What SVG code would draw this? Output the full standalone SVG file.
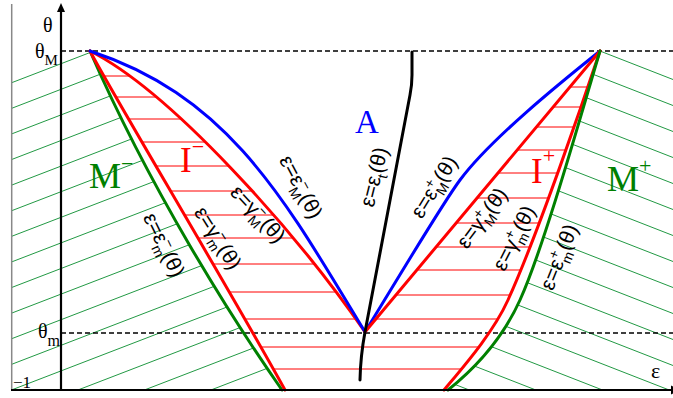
<svg xmlns="http://www.w3.org/2000/svg" width="673" height="398" viewBox="0 0 673 398">
<style>
.ser{font-family:"Liberation Serif","Times New Roman",serif}
.lb{font-family:"Liberation Sans",Arial,sans-serif;font-size:21px;fill:#000}
.sm{font-size:14px}
.hg line{stroke:#229944;stroke-width:1}
.hr line{stroke:#ff0000;stroke-width:1}
.cv{fill:none;stroke-width:3;stroke-linejoin:round;stroke-linecap:round}
.dash{stroke:#000;stroke-width:1.3;stroke-dasharray:5,3;fill:none}
.ax{stroke:#000;stroke-width:2.2;fill:none}
</style>
<defs>
<clipPath id="cL"><path d="M12,51 L90,51 C150,189 232,318.5 282,390 L12,390 Z"/></clipPath>
<clipPath id="cR"><path d="M600,51 L673,51 L673,390 L448,390 C473,370 502,340 520,300 C545,245 586,97 600,51 Z"/></clipPath>
<clipPath id="cI"><path d="M90,51 C110,90 230,290 285,390 L444,390 C464,366 493,333 508,300 C538,234 585,96 600,51 L365,332 C295,230.5 170,91 90,51 Z"/></clipPath>
</defs>
<rect width="673" height="398" fill="#fff"/>
<g id="hatch-left" class="hg" clip-path="url(#cL)">
<line x1="0" y1="87.2" x2="300" y2="-28.3"/>
<line x1="0" y1="112.8" x2="300" y2="-2.7"/>
<line x1="0" y1="138.4" x2="300" y2="22.9"/>
<line x1="0" y1="164" x2="300" y2="48.5"/>
<line x1="0" y1="189.6" x2="300" y2="74.1"/>
<line x1="0" y1="215.2" x2="300" y2="99.7"/>
<line x1="0" y1="240.8" x2="300" y2="125.3"/>
<line x1="0" y1="266.4" x2="300" y2="150.9"/>
<line x1="0" y1="292" x2="300" y2="176.5"/>
<line x1="0" y1="317.6" x2="300" y2="202.1"/>
<line x1="0" y1="343.2" x2="300" y2="227.7"/>
<line x1="0" y1="368.8" x2="300" y2="253.3"/>
<line x1="0" y1="394.4" x2="300" y2="278.9"/>
<line x1="0" y1="420" x2="300" y2="304.5"/>
<line x1="0" y1="445.6" x2="300" y2="330.1"/>
<line x1="0" y1="471.2" x2="300" y2="355.7"/>
<line x1="0" y1="496.8" x2="300" y2="381.3"/>
</g>
<g id="hatch-right" class="hg" clip-path="url(#cR)">
<line x1="440" y1="-11.4" x2="673" y2="79.5"/>
<line x1="440" y1="14.6" x2="673" y2="105.5"/>
<line x1="440" y1="40.6" x2="673" y2="131.5"/>
<line x1="440" y1="66.6" x2="673" y2="157.5"/>
<line x1="440" y1="92.6" x2="673" y2="183.5"/>
<line x1="440" y1="118.6" x2="673" y2="209.5"/>
<line x1="440" y1="144.6" x2="673" y2="235.5"/>
<line x1="440" y1="170.6" x2="673" y2="261.5"/>
<line x1="440" y1="196.6" x2="673" y2="287.5"/>
<line x1="440" y1="222.6" x2="673" y2="313.5"/>
<line x1="440" y1="248.6" x2="673" y2="339.5"/>
<line x1="440" y1="274.6" x2="673" y2="365.5"/>
<line x1="440" y1="300.6" x2="673" y2="391.5"/>
<line x1="440" y1="326.6" x2="673" y2="417.5"/>
<line x1="440" y1="352.6" x2="673" y2="443.5"/>
<line x1="440" y1="378.6" x2="673" y2="469.5"/>
</g>
<g id="hatch-I" class="hr" clip-path="url(#cI)">
<line x1="80" y1="76" x2="366" y2="76"/>
<line x1="80" y1="97" x2="366" y2="97"/>
<line x1="80" y1="119" x2="366" y2="119"/>
<line x1="80" y1="142" x2="366" y2="142"/>
<line x1="80" y1="166" x2="366" y2="166"/>
<line x1="80" y1="191" x2="366" y2="191"/>
<line x1="80" y1="215" x2="366" y2="215"/>
<line x1="80" y1="238" x2="366" y2="238"/>
<line x1="80" y1="264" x2="366" y2="264"/>
<line x1="80" y1="292" x2="366" y2="292"/>
<line x1="364" y1="87" x2="610" y2="87"/>
<line x1="364" y1="107" x2="610" y2="107"/>
<line x1="364" y1="127" x2="610" y2="127"/>
<line x1="364" y1="150" x2="610" y2="150"/>
<line x1="364" y1="173" x2="610" y2="173"/>
<line x1="364" y1="198" x2="610" y2="198"/>
<line x1="364" y1="223" x2="610" y2="223"/>
<line x1="364" y1="247" x2="610" y2="247"/>
<line x1="364" y1="270" x2="610" y2="270"/>
<line x1="364" y1="295" x2="610" y2="295"/>
<line x1="80" y1="319" x2="610" y2="319"/>
<line x1="80" y1="347" x2="610" y2="347"/>
<line x1="80" y1="369" x2="610" y2="369"/>
</g>
<g id="levels">
<line class="dash" x1="61" y1="51" x2="673" y2="51"/>
<line class="dash" x1="61" y1="333" x2="673" y2="333"/>
</g>
<g id="connectors">
<path id="eps-m-minus" class="cv" stroke="#008000" d="M90,51 C150,189 232,318.5 282,390"/>
<path id="gam-m-minus" class="cv" stroke="#ff0000" d="M90,51 C110,90 230,290 285,390"/>
<path id="gam-M-minus" class="cv" stroke="#ff0000" d="M90,51 C170,91 295,230.5 365,332"/>
<path id="eps-M-minus" class="cv" stroke="#0000ff" d="M90,51 C230,97 285,200 365,332"/>
<path id="eps-M-plus" class="cv" stroke="#0000ff" d="M365,332 C385,300 440,207 460,180 C490,139.5 560,83 600,51"/>
<path id="gam-M-plus" class="cv" stroke="#ff0000" d="M365,332 L600,51"/>
<path id="gam-m-plus" class="cv" stroke="#ff0000" d="M444,390 C464,366 493,333 508,300 C538,234 585,96 600,51"/>
<path id="eps-m-plus" class="cv" stroke="#008000" d="M448,390 C473,370 502,340 520,300 C545,245 586,97 600,51"/>
<path id="eps-t" class="cv" stroke="#000" stroke-width="2.8" d="M412,52 L412,75 Q412,85 410,95 L365,332 Q360.5,356 360,380"/>
</g>
<g id="axes">
<line x1="11.7" y1="4" x2="11.7" y2="390" stroke="#888" stroke-width="1.5"/>
<line class="ax" x1="61" y1="390" x2="61" y2="10"/>
<polygon points="61,3 57,12 65,12" fill="#000"/>
<line class="ax" x1="11" y1="390" x2="672" y2="390"/>
<polygon points="671,385.5 680,390 671,394.5" fill="#000"/>
</g>
<g id="axis-labels" class="ser" fill="#000">
<text x="43" y="32" font-size="20">θ</text>
<text x="35" y="58" font-size="20">θ<tspan font-size="15" dy="7">M</tspan></text>
<text x="38" y="338" font-size="20">θ<tspan font-size="16" dy="8">m</tspan></text>
<text x="13" y="388" font-size="17">−1</text>
<text x="651" y="378" font-size="22">ε</text>
</g>
<g id="region-A"><text class="ser" x="355" y="133" font-size="33" fill="#0000ff">A</text></g>
<g id="region-Mminus"><text class="ser" x="89" y="188" font-size="36" fill="#008000">M<tspan font-size="22" dy="-17">−</tspan></text></g>
<g id="region-Iminus"><text class="ser" x="180" y="172" font-size="35" fill="#ff0000">I<tspan font-size="22" dy="-18">−</tspan></text></g>
<g id="region-Iplus"><text class="ser" x="531" y="183" font-size="35" fill="#ff0000">I<tspan font-size="22" dy="-20">+</tspan></text></g>
<g id="region-Mplus"><text class="ser" x="607" y="191" font-size="36" fill="#008000">M<tspan font-size="22" dy="-18">+</tspan></text></g>
<g id="curve-labels">
<text class="lb" transform="translate(164,245) rotate(64)" text-anchor="middle" y="7">ε=ε<tspan class="sm" dy="-8">−</tspan><tspan class="sm" dx="-8" dy="14">m</tspan><tspan dy="-6">(θ)</tspan></text>
<text class="lb" transform="translate(218,238) rotate(58)" text-anchor="middle" y="7">ε=γ<tspan class="sm" dy="-8">−</tspan><tspan class="sm" dx="-8" dy="14">m</tspan><tspan dy="-6">(θ)</tspan></text>
<text class="lb" transform="translate(258,214) rotate(47)" text-anchor="middle" y="7">ε=γ<tspan class="sm" dy="-8">−</tspan><tspan class="sm" dx="-8" dy="14">M</tspan><tspan dy="-6">(θ)</tspan></text>
<text class="lb" transform="translate(301,187) rotate(62)" text-anchor="middle" y="7">ε=ε<tspan class="sm" dy="-8">−</tspan><tspan class="sm" dx="-8" dy="14">M</tspan><tspan dy="-6">(θ)</tspan></text>
<text class="lb" transform="translate(374,177) rotate(-76)" text-anchor="middle" y="7">ε=ε<tspan class="sm" dy="6">t</tspan><tspan dy="-6">(θ)</tspan></text>
<text class="lb" transform="translate(434,187) rotate(-58)" text-anchor="middle" y="7">ε=ε<tspan class="sm" dy="-8">+</tspan><tspan class="sm" dx="-8" dy="14">M</tspan><tspan dy="-6">(θ)</tspan></text>
<text class="lb" transform="translate(482,218) rotate(-53)" text-anchor="middle" y="7">ε=γ<tspan class="sm" dy="-8">+</tspan><tspan class="sm" dx="-8" dy="14">M</tspan><tspan dy="-6">(θ)</tspan></text>
<text class="lb" transform="translate(514,238) rotate(-63)" text-anchor="middle" y="7">ε=γ<tspan class="sm" dy="-8">+</tspan><tspan class="sm" dx="-8" dy="14">m</tspan><tspan dy="-6">(θ)</tspan></text>
<text class="lb" transform="translate(559,257) rotate(-68)" text-anchor="middle" y="7">ε=ε<tspan class="sm" dy="-8">+</tspan><tspan class="sm" dx="-8" dy="14">m</tspan><tspan dy="-6">(θ)</tspan></text>
</g>
</svg>
